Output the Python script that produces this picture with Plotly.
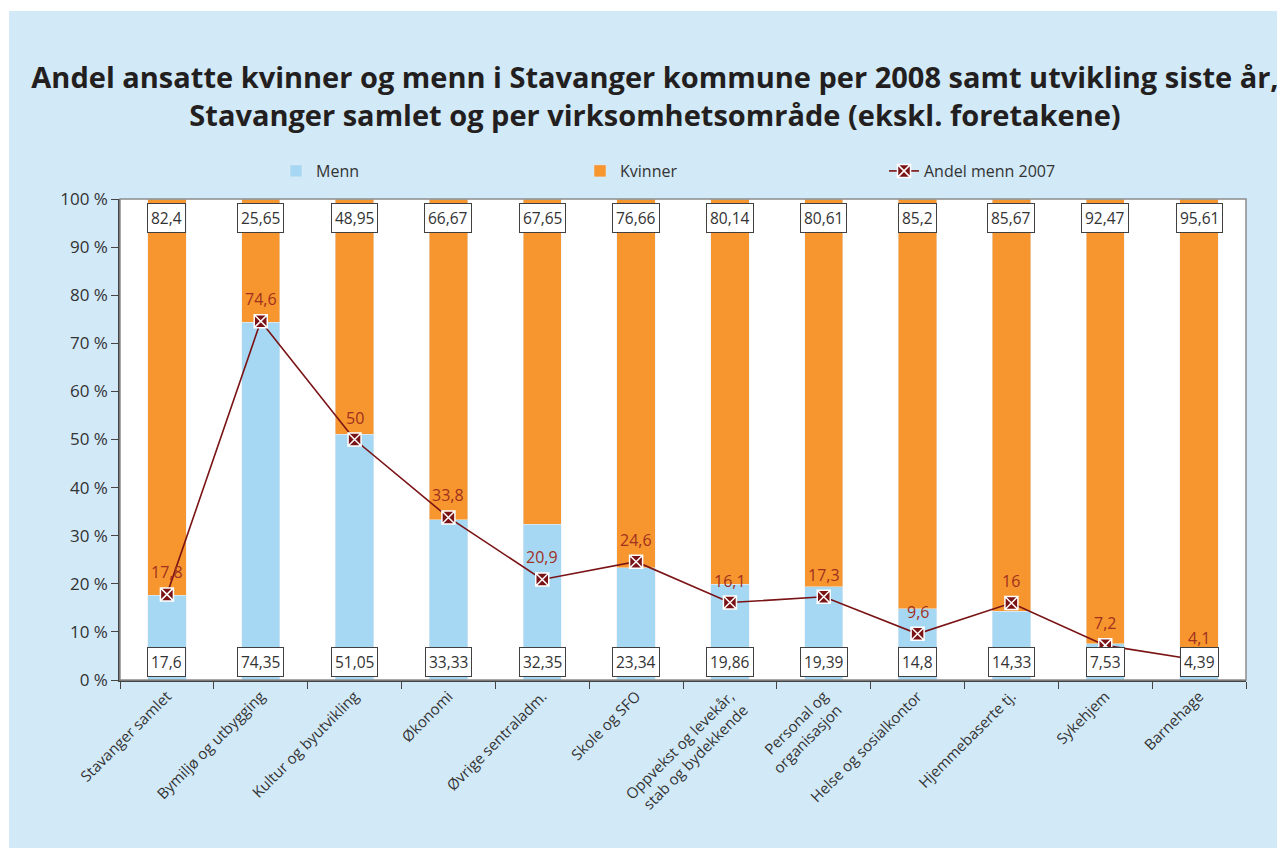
import plotly.graph_objects as go

categories = ["Stavanger samlet", "Bymiljø og utbygging", "Kultur og byutvikling", "Økonomi",
              "Øvrige sentraladm.", "Skole og SFO", "Oppvekst og levekår,<br>stab og bydekkende",
              "Personal og<br>organisasjon", "Helse og sosialkontor", "Hjemmebaserte tj.",
              "Sykehjem", "Barnehage"]
menn = [17.6, 74.35, 51.05, 33.33, 32.35, 23.34, 19.86, 19.39, 14.8, 14.33, 7.53, 4.39]
kvinner = [82.4, 25.65, 48.95, 66.67, 67.65, 76.66, 80.14, 80.61, 85.2, 85.67, 92.47, 95.61]
andel_menn_2007 = [17.8, 74.6, 50, 33.8, 20.9, 24.6, 16.1, 17.3, 9.6, 16, 7.2, 4.1]
y_ticks = [0, 10, 20, 30, 40, 50, 60, 70, 80, 90, 100]

def fmt(v):
    s = ("%g" % v)
    return s.replace(".", ",")

FONT = "Open Sans"
C_MENN = "#A6D8F3"
C_KV = "#F7962E"
C_LINE = "#7A1315"
C_LBL = "#A0301F"
PANEL = "#D2E9F8"

OFF = 8  # page body margin
W, H = 1285 - OFF, 848 - OFF
L, T = 120 - OFF, 199 - OFF
R = W - (1246 - OFF)
B = H - (680 - OFF)
PW, PH = W - L - R, H - T - B

def px(x):  # reference screen x -> paper
    return (x - OFF - L) / PW

def py(y):  # reference screen y -> paper
    return (H - B - (y - OFF)) / PH

fig = go.Figure()
fig.add_trace(go.Bar(x=categories, y=menn, name="Menn", marker_color=C_MENN, width=0.41))
fig.add_trace(go.Bar(x=categories, y=kvinner, name="Kvinner", marker_color=C_KV, width=0.41))
fig.add_trace(go.Scatter(x=categories, y=andel_menn_2007, name="Andel menn 2007", mode="lines+markers",
                         line=dict(color=C_LINE, width=1.6),
                         marker=dict(symbol="square-x", size=13, color=C_LINE,
                                     line=dict(color="white", width=1.5))))

ann = []
for c, v in zip(categories, menn):
    ann.append(dict(x=c, y=0, yanchor="bottom", yshift=3, text=fmt(v), showarrow=False,
                    bgcolor="white", bordercolor="#404040", borderwidth=1, borderpad=3,
                    font=dict(family=FONT, size=15.5, color="#333333")))
for c, v in zip(categories, kvinner):
    ann.append(dict(x=c, y=100, yanchor="top", yshift=-4, text=fmt(v), showarrow=False,
                    bgcolor="white", bordercolor="#404040", borderwidth=1, borderpad=3,
                    font=dict(family=FONT, size=15.5, color="#333333")))
for c, v in zip(categories, andel_menn_2007):
    ann.append(dict(x=c, y=v, yanchor="bottom", yshift=9, text=fmt(v), showarrow=False,
                    font=dict(family=FONT, size=16, color=C_LBL)))

fig.update_layout(
    width=W, height=H,
    barmode="stack",
    paper_bgcolor="white",
    plot_bgcolor="white",
    margin=dict(l=L, r=R, t=T, b=B, autoexpand=False),
    title=dict(text="Andel ansatte kvinner og menn i Stavanger kommune per 2008 samt utvikling siste år,<br>Stavanger samlet og per virksomhetsområde (ekskl. foretakene)",
               x=(655 - OFF) / W, xanchor="center", y=1 - (88 - OFF) / H, yanchor="middle",
               font=dict(family=FONT, size=29, color="#231F20", weight="bold")),
    legend=dict(orientation="h", x=px(276), y=py(171), xanchor="left", yanchor="middle",
                entrywidth=259, entrywidthmode="pixels", bgcolor="rgba(0,0,0,0)",
                font=dict(family=FONT, size=16, color="#333333"), traceorder="normal"),
    annotations=ann,
    shapes=[
        dict(type="rect", xref="paper", yref="paper", x0=px(9), x1=px(1300), y0=py(870), y1=py(11),
             fillcolor=PANEL, line=dict(width=0), layer="below"),
        dict(type="rect", xref="paper", yref="paper", x0=0, x1=1, y0=0, y1=1,
             fillcolor="white", line=dict(width=0), layer="below"),
        dict(type="rect", xref="paper", yref="paper", x0=0, x1=1, y0=0, y1=1,
             fillcolor="rgba(0,0,0,0)", line=dict(color="#8C8C8C", width=1.5), layer="above"),
    ],
    showlegend=True,
)
fig.update_xaxes(range=[-0.5, len(categories) - 0.5], tickangle=-45, tickson="boundaries",
                 ticks="outside", ticklen=7, tickcolor="#444",
                 showline=True, linecolor="#444", linewidth=1.5, automargin=False,
                 tickfont=dict(family=FONT, size=15, color="#333333"), showgrid=False)
fig.update_yaxes(range=[0, 100], tickvals=y_ticks, ticktext=[f"{t} %" for t in y_ticks],
                 ticks="outside", ticklen=7, tickcolor="#444", showline=True, linecolor="#444", linewidth=1.5,
                 automargin=False,
                 tickfont=dict(family=FONT, size=17, color="#333333"), showgrid=False, zeroline=False)

fig.write_html("out.html")
